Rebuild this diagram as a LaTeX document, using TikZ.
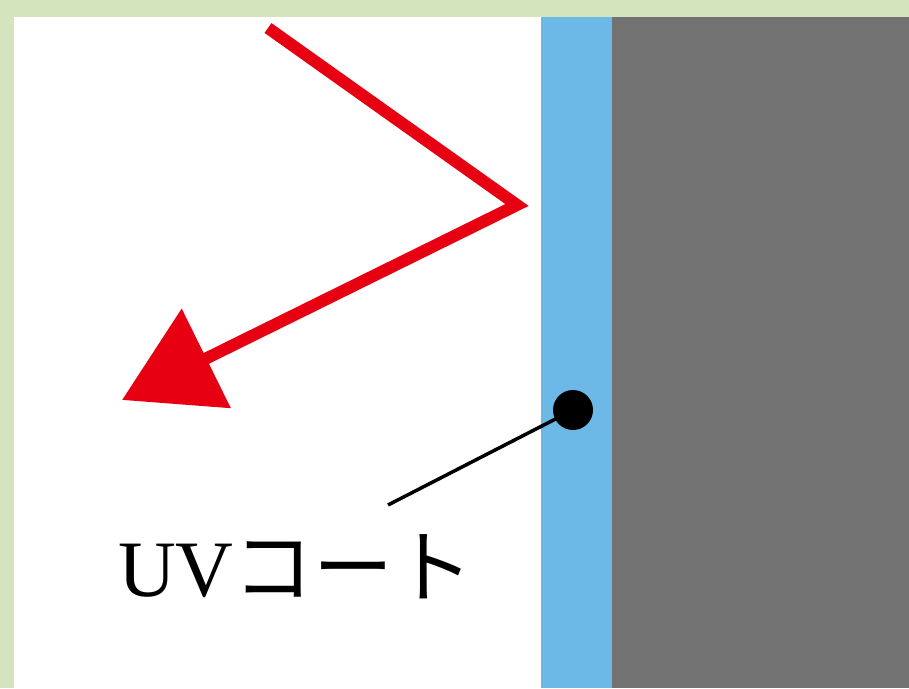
\documentclass[tikz,border=0pt]{standalone}
\usepackage{fontspec}
\setmainfont{Liberation Serif}
\newfontfamily\jpfont{Noto Sans CJK JP}
\usetikzlibrary{arrows.meta}
\definecolor{framegreen}{RGB}{212,228,188}
\definecolor{uvblue}{RGB}{108,184,230}
\definecolor{basegray}{RGB}{114,114,114}
\definecolor{rayred}{RGB}{230,0,18}
\tikzset{
  ray/.style={draw=rayred,line width=12pt,line join=miter,
    -{Triangle[length=94pt,width=108pt]}},
  dot/.style={circle,fill=black,inner sep=0pt,minimum size=40pt},
  leader/.style={draw=black,line width=3.5pt},
  label/.style={font=\fontsize{80}{80}\selectfont,inner sep=0pt}
}
\begin{document}
\begin{tikzpicture}[x=1pt,y=-1pt]
% frame, air, UV coat and base
\fill[framegreen] (0,0) rectangle (909,688);
\fill[white] (14,17) rectangle (541,688);
\fill[uvblue] (541,17) rectangle (612,688);
\fill[basegray] (612,17) rectangle (909,688);
% light reflected at the coat
\coordinate (in) at (268,28);
\coordinate (hit) at (517,205);
\coordinate (out) at (122,400);
\draw[ray] (in) -- (hit) -- (out);
% pointer to the coat
\node[dot] (pt) at (573,410) {};
\node[label] (uv) at (296,567) {UV{\jpfont コート}};
\coordinate (lead) at (388,505);
\draw[leader] (pt.center) -- (lead);
\end{tikzpicture}
\end{document}
